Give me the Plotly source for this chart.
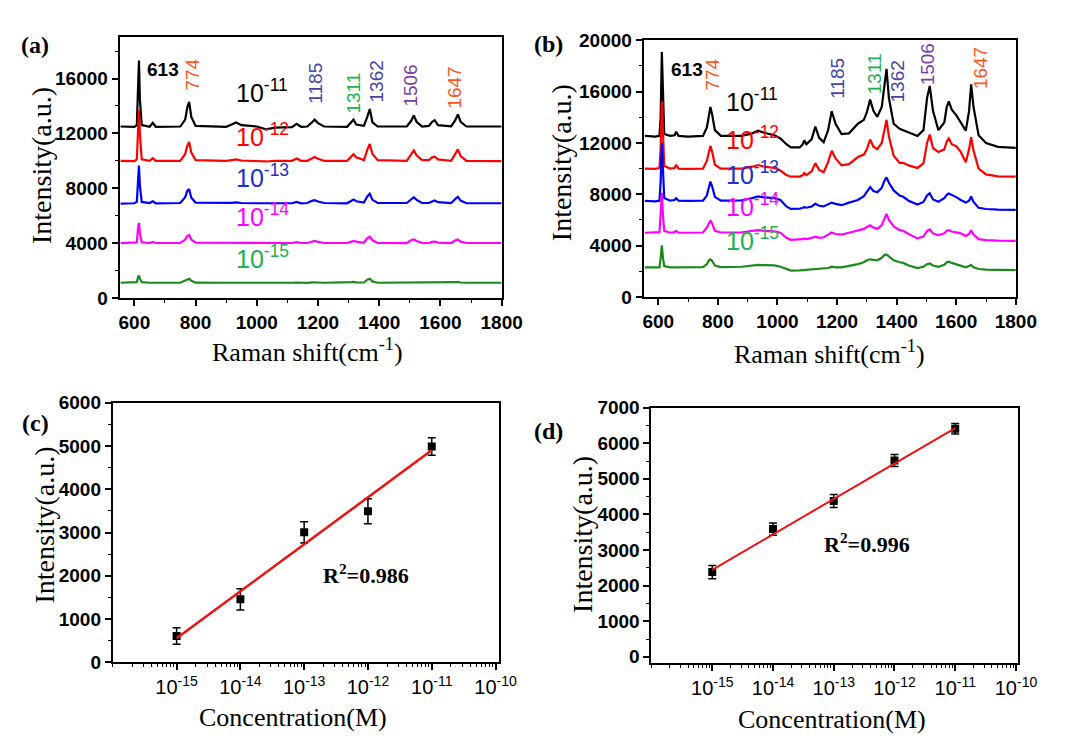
import plotly.graph_objects as go

W, H = 1069, 742

# ---------------- Panel (a) spectra ----------------
xa = [555, 600, 608, 612, 615, 618, 624, 650, 660, 670, 750, 766, 773, 779, 786, 800, 900, 918, 932, 950,
      1000, 1030, 1060, 1115, 1130, 1145, 1165, 1180, 1189, 1200, 1220, 1295, 1309, 1316, 1325, 1350, 1361,
      1369, 1378, 1395, 1490, 1504, 1513, 1522, 1540, 1562, 1573, 1581, 1592, 1635, 1648, 1657, 1666, 1685, 1800]
a_e11 = [12500, 12480, 12600, 15000, 17320, 14500, 12600, 12480, 12770, 12480, 12500, 13000, 13900, 14300, 13200,
         12550, 12480, 12650, 12790, 12600, 12500, 12300, 12420, 12450, 12700, 12480, 12500, 12800, 13000, 12750,
         12500, 12480, 12800, 13000, 12650, 12550, 13200, 13780, 12800, 12500, 12500, 12900, 13310, 12850, 12500,
         12550, 12850, 12960, 12600, 12520, 12950, 13380, 12850, 12500, 12500]
a_e12 = [10000, 9980, 10100, 12500, 13710, 12000, 10100, 10000, 10190, 9990, 10000, 10500, 11100, 11380, 10600,
         10050, 9990, 10050, 10100, 10020, 10000, 9950, 10000, 10000, 10170, 10000, 10000, 10180, 10280, 10150,
         10000, 10000, 10350, 10480, 10250, 10050, 10800, 11230, 10500, 10050, 10000, 10450, 10760, 10400, 10050,
         10050, 10250, 10300, 10100, 10000, 10450, 10830, 10350, 10000, 9980]
a_e13 = [6880, 6900, 7000, 9000, 9650, 8200, 7000, 6920, 7050, 6900, 6920, 7350, 7800, 7930, 7300,
         6950, 6900, 6930, 6960, 6920, 6900, 6880, 6900, 6900, 7000, 6900, 6920, 7080, 7130, 7030,
         6920, 6900, 7100, 7180, 7050, 6950, 7400, 7600, 7150, 6920, 6920, 7200, 7340, 7150, 6920,
         6920, 7050, 7110, 6980, 6920, 7200, 7370, 7100, 6900, 6900]
a_e14 = [3990, 4000, 4050, 5100, 5470, 4700, 4050, 4000, 4080, 4000, 4000, 4250, 4500, 4580, 4250,
         4020, 4000, 4010, 4020, 4000, 4000, 3990, 4000, 4000, 4060, 4000, 4000, 4120, 4160, 4080,
         4000, 4000, 4130, 4160, 4100, 4020, 4350, 4460, 4200, 4010, 4000, 4200, 4260, 4150, 4000,
         4000, 4080, 4110, 4030, 4000, 4180, 4260, 4100, 4000, 4000]
a_e15 = [1100, 1100, 1150, 1500, 1630, 1400, 1150, 1100, 1120, 1100, 1100, 1250, 1370, 1390, 1250,
         1110, 1100, 1110, 1110, 1100, 1100, 1090, 1100, 1100, 1120, 1100, 1100, 1130, 1140, 1120,
         1100, 1100, 1150, 1160, 1130, 1120, 1330, 1390, 1200, 1100, 1100, 1130, 1150, 1120, 1100,
         1100, 1120, 1130, 1100, 1100, 1140, 1160, 1120, 1100, 1100]

# ---------------- Panel (b) spectra ----------------
xb = [555, 590, 604, 608, 612, 616, 620, 640, 655, 660, 668, 700, 750, 763, 770, 775, 781, 790, 810, 880,
      915, 935, 955, 990, 1010, 1030, 1045, 1075, 1085, 1090, 1097, 1115, 1127, 1140, 1155, 1170, 1182, 1195,
      1215, 1240, 1270, 1290, 1300, 1311, 1322, 1335, 1350, 1358, 1366, 1374, 1390, 1410, 1422, 1440, 1470,
      1490, 1502, 1511, 1522, 1540, 1560, 1568, 1575, 1585, 1600, 1615, 1632, 1643, 1650, 1658, 1675, 1700,
      1740, 1800]
b_e11 = [12550, 12500, 12550, 14000, 19090, 15500, 12700, 12550, 12600, 12880, 12550, 12500, 12550, 13200,
         14300, 14800, 14200, 13000, 12550, 12550, 12750, 12950, 12800, 12600, 12350, 11900, 11650, 11650,
         11900, 12200, 11900, 12300, 13280, 12400, 12050, 13000, 14470, 13500, 12700, 12750, 13500, 13800,
         14400, 15380, 14500, 14040, 14800, 16500, 17780, 15500, 13500, 13100, 13000, 12800, 12550, 13000,
         15500, 16440, 14500, 13000, 13600, 14800, 15250, 14600, 14170, 13600, 12950, 14500, 16570, 14800,
         12600, 12000, 11700, 11620]
b_e12 = [10000, 9980, 10050, 11500, 15230, 12500, 10200, 10000, 10050, 10300, 10000, 9980, 10000, 10600,
         11400, 11770, 11300, 10300, 10000, 10000, 10150, 10280, 10150, 10050, 9850, 9500, 9370, 9380,
         9500, 9650, 9500, 9800, 10430, 9900, 9720, 10500, 11390, 10800, 10250, 10350, 10900, 11100,
         11500, 12270, 11700, 11520, 12000, 13000, 13790, 12500, 11000, 10450, 10450, 10250, 10050, 10400,
         12000, 12650, 11600, 11300, 11500, 12100, 12350, 11900, 11750, 11300, 10500, 11500, 12450, 11400,
         10000, 9550, 9400, 9370]
b_e13 = [7480, 7450, 7500, 9000, 12020, 9500, 7700, 7500, 7550, 7700, 7500, 7480, 7500, 7900,
         8700, 8990, 8600, 7800, 7500, 7520, 7700, 7830, 7750, 7700, 7550, 7050, 6860, 6870,
         6950, 7000, 6950, 7050, 7260, 7100, 7050, 7200, 7350, 7250, 7150, 7350, 7550, 7850,
         8200, 8560, 8250, 8150, 8500, 9000, 9320, 8900, 8300, 7900, 7800, 7500, 7200, 7400,
         7900, 8080, 7600, 7420, 7700, 7950, 8060, 7950, 7780, 7550, 7350, 7500, 7830, 7400,
         6950, 6850, 6800, 6790]
b_e14 = [5000, 5000, 5050, 6500, 8110, 6300, 5150, 5000, 5050, 5150, 5000, 5000, 5020, 5400,
         5800, 5960, 5700, 5150, 5020, 5030, 5150, 5200, 5150, 5100, 5000, 4600, 4450, 4460,
         4500, 4550, 4500, 4600, 4700, 4600, 4650, 4850, 5020, 4900, 4850, 5000, 5200, 5300,
         5450, 5580, 5400, 5300, 5600, 6100, 6460, 6000, 5500, 5200, 5150, 4900, 4560, 4700,
         5150, 5260, 4950, 4810, 4950, 5150, 5200, 5100, 5020, 4950, 4750, 4900, 5200, 4850,
         4500, 4420, 4380, 4370]
b_e15 = [2300, 2280, 2300, 3000, 4020, 3000, 2400, 2300, 2300, 2350, 2300, 2300, 2320, 2550,
         2850, 2930, 2800, 2450, 2320, 2350, 2450, 2500, 2480, 2450, 2350, 2150, 2050, 2060,
         2080, 2100, 2080, 2120, 2170, 2150, 2180, 2250, 2350, 2300, 2300, 2400, 2550, 2700,
         2850, 2930, 2880, 2850, 3050, 3250, 3310, 3150, 2850, 2700, 2650, 2450, 2250, 2350,
         2550, 2600, 2450, 2350, 2500, 2700, 2750, 2650, 2550, 2450, 2300, 2400, 2500, 2300,
         2170, 2120, 2100, 2090]

series_names = ["10<sup>-11</sup>", "10<sup>-12</sup>", "10<sup>-13</sup>", "10<sup>-14</sup>", "10<sup>-15</sup>"]
line_colors = ["#000000", "#FF0000", "#0000FF", "#FF00FF", "#1A8A1A"]
label_colors = ["#000000", "#FF0000", "#2030C8", "#FF00FF", "#20B050"]

# ---------------- Panels (c) and (d) ----------------
conc = [1e-15, 1e-14, 1e-13, 1e-12, 1e-11]
c_int = [607, 1454, 3004, 3490, 4989]
c_err = [190, 245, 245, 290, 200]
c_fit_x = [1e-15, 1e-11]
c_fit_y = [555, 4900]
d_int = [2381, 3589, 4380, 5517, 6408]
d_err = [185, 173, 182, 168, 145]
d_fit_x = [1e-15, 1e-11]
d_fit_y = [2444, 6425]
log_ticks = [1e-15, 1e-14, 1e-13, 1e-12, 1e-11, 1e-10]
log_ticktext = ["10<sup>-15</sup>", "10<sup>-14</sup>", "10<sup>-13</sup>",
                "10<sup>-12</sup>", "10<sup>-11</sup>", "10<sup>-10</sup>"]

peak_labels = ["613", "774", "1185", "1311", "1362", "1506", "1647"]
peak_colors = ["#000000", "#FF5520", "#4545A5", "#20B050", "#4545A5", "#7A3DA8", "#FF5520"]


def px(x):
    return x / W


def py(y):
    return 1 - y / H


fig = go.Figure()

for ys, col in zip([a_e11, a_e12, a_e13, a_e14, a_e15], line_colors):
    fig.add_trace(go.Scatter(x=xa, y=ys, mode="lines", line=dict(color=col, width=2.2),
                             xaxis="x", yaxis="y", showlegend=False))
for ys, col in zip([b_e11, b_e12, b_e13, b_e14, b_e15], line_colors):
    fig.add_trace(go.Scatter(x=xb, y=ys, mode="lines", line=dict(color=col, width=2.2),
                             xaxis="x2", yaxis="y2", showlegend=False))

fig.add_trace(go.Scatter(x=conc, y=c_int, mode="markers",
                         marker=dict(symbol="square", size=8, color="black"),
                         error_y=dict(type="data", array=c_err, color="black", thickness=1.5, width=4),
                         xaxis="x3", yaxis="y3", showlegend=False))
fig.add_trace(go.Scatter(x=c_fit_x, y=c_fit_y, mode="lines", line=dict(color="#EE1111", width=2.5),
                         xaxis="x3", yaxis="y3", showlegend=False))
fig.add_trace(go.Scatter(x=conc, y=d_int, mode="markers",
                         marker=dict(symbol="square", size=8, color="black"),
                         error_y=dict(type="data", array=d_err, color="black", thickness=1.5, width=4),
                         xaxis="x4", yaxis="y4", showlegend=False))
fig.add_trace(go.Scatter(x=d_fit_x, y=d_fit_y, mode="lines", line=dict(color="#EE1111", width=2),
                         xaxis="x4", yaxis="y4", showlegend=False))

tickfont_b = dict(family="Arial, Liberation Sans", size=19, color="black", weight="bold")
tickfont_n = dict(family="Arial, Liberation Sans", size=20, color="black")
common = dict(showline=True, linecolor="black", linewidth=2, mirror=True, showgrid=False,
              zeroline=False, ticks="outside", ticklen=6, tickwidth=1.5, tickcolor="black",
              tickformat="d")
mn = dict(ticks="outside", ticklen=3, tickcolor="black", tickwidth=1.2)

fig.update_layout(
    width=W, height=H, margin=dict(l=0, r=0, t=0, b=0),
    paper_bgcolor="white", plot_bgcolor="white",
    xaxis=dict(domain=[px(113), px(503)], anchor="y", range=[552, 1800], tick0=600, dtick=200,
               tickfont=tickfont_b, minor=dict(dtick=100, **mn), **common),
    yaxis=dict(domain=[py(288), py(20)], anchor="x", range=[0, 19000], tick0=0, dtick=4000,
               tickfont=tickfont_b, minor=dict(dtick=2000, **mn), **common),
    xaxis2=dict(domain=[px(648), px(1028)], anchor="y2", range=[551, 1800], tick0=600, dtick=200,
                tickfont=tickfont_b, minor=dict(dtick=100, **mn), **common),
    yaxis2=dict(domain=[py(287), py(23)], anchor="x2", range=[0, 20000], tick0=0, dtick=4000,
                tickfont=tickfont_b, minor=dict(dtick=2000, **mn), **common),
    xaxis3=dict(domain=[px(106), px(500)], anchor="y3", type="log", range=[-16, -9.95],
                tickvals=log_ticks, ticktext=log_ticktext, tickfont=tickfont_n,
                minor=dict(dtick="D1", **mn), **common),
    yaxis3=dict(domain=[py(663), py(396)], anchor="x3", range=[0, 6000], tick0=0, dtick=1000,
                tickfont=tickfont_b, minor=dict(dtick=500, **mn), **common),
    xaxis4=dict(domain=[px(656), px(1030)], anchor="y4", type="log", range=[-16, -9.97],
                tickvals=log_ticks, ticktext=log_ticktext, tickfont=tickfont_n,
                minor=dict(dtick="D1", **mn), **common),
    yaxis4=dict(domain=[py(664), py(401)], anchor="x4", range=[-180, 7000], tick0=0, dtick=1000,
                tickfont=tickfont_b, minor=dict(dtick=500, **mn), **common),
)

serif = "Times New Roman, Liberation Serif, serif"
ann = []


def add_text(x, y, text, size, family=serif, color="black", angle=0, weight="normal", xanchor="center"):
    ann.append(dict(x=px(x), y=py(y), xref="paper", yref="paper", text=text, showarrow=False,
                    font=dict(family=family, size=size, color=color, weight=weight),
                    textangle=angle, xanchor=xanchor, yanchor="middle"))


# panel letters
for (x, y, t) in [(27, 28, "(a)"), (551, 27, "(b)"), (27, 417, "(c)"), (551, 425, "(d)")]:
    add_text(x, y, t, 24, weight="bold")

# axis titles
add_text(33, 152, "Intensity(a.u.)", 28, angle=-90)
add_text(564, 149, "Intensity(a.u.)", 28, angle=-90)
add_text(36, 522, "Intensity(a.u.)", 28, angle=-90)
add_text(586, 531, "Intensity(a.u.)", 28, angle=-90)
add_text(305, 342, "Raman shift(cm<sup>-1</sup>)", 26)
add_text(838, 344, "Raman shift(cm<sup>-1</sup>)", 26)
add_text(290, 720, "Concentration(M)", 26)
add_text(840, 722, "Concentration(M)", 26)

# R^2
add_text(365, 572, "R<sup>2</sup>=0.986", 22, weight="bold")
add_text(876, 540, "R<sup>2</sup>=0.996", 22, weight="bold")

# peak labels
sans = "Arial, Liberation Sans, sans-serif"
pa = [(157, 53, 0), (187, 58, -90), (313, 67, -90), (352, 77, -90), (375, 65, -90), (409, 70, -90), (455, 72, -90)]
pb = [(692, 53, 0), (718, 58, -90), (846, 62, -90), (884, 57, -90), (907, 65, -90), (938, 48, -90), (992, 52, -90)]
for (x, y, ang), t, c in zip(pa, peak_labels, peak_colors):
    add_text(x, y, t, 19, family=sans, color=c, angle=ang, weight="bold" if t == "613" else "normal")
for (x, y, ang), t, c in zip(pb, peak_labels, peak_colors):
    add_text(x, y, t, 19, family=sans, color=c, angle=ang, weight="bold" if t == "613" else "normal")

# series labels
ya_lab = [75, 120, 163, 203, 246]
yb_lab = [84, 124, 159, 192, 227]
for y, t, c in zip(ya_lab, series_names, label_colors):
    add_text(230, y, t, 25, family=sans, color=c, xanchor="left")
for y, t, c in zip(yb_lab, series_names, label_colors):
    add_text(730, y, t, 25, family=sans, color=c, xanchor="left")

fig.update_layout(annotations=ann)
fig.write_html("out.html")
